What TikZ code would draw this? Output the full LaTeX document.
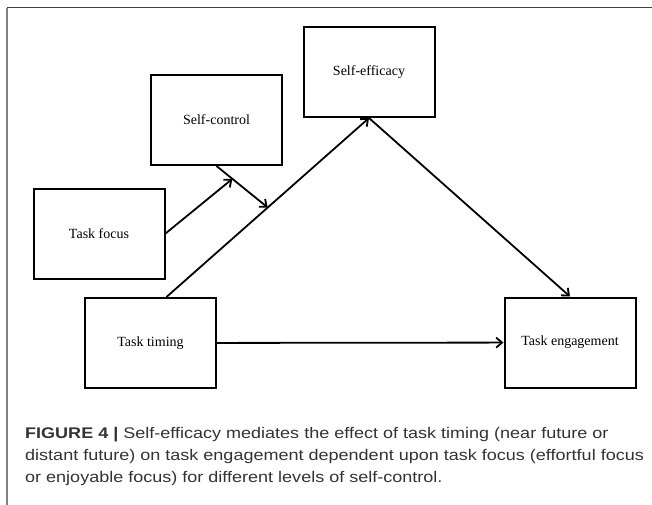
\documentclass[tikz,border=0pt]{standalone}
\usepackage{fontspec}
\setmainfont{Liberation Serif}
\newfontfamily\capfont[FakeStretch=1.17]{Liberation Sans}
\usetikzlibrary{calc,arrows.meta}
\tikzset{box/.style={draw,line width=2pt,minimum width=131pt,minimum height=90pt,inner sep=0pt,font=\fontsize{14}{16}\selectfont},
link/.style={line width=1.8pt,-{Straight Barb[length=6pt,width=10pt]}},
capline/.style={anchor=base west,inner sep=0pt,text=black!80,font=\capfont\fontsize{15.4}{18}\selectfont}}

\begin{document}
\begin{tikzpicture}[x=1pt,y=-1pt]
\useasboundingbox (0,0) rectangle (652,505);
% frame
\draw[black!50,line width=1.3pt] (7,505) -- (7,8);
\draw[black!75,line width=1pt] (7,8) -- (652,8);
% boxes
\node[box] (control) at (216.5,120) {Self-control};
\node[box] (efficacy) at (369,72) {Self-efficacy};
\node[box] (focus) at (99,233.5) {Task focus};
\node[box] (timing) at (150.5,343) {Task timing};
\node[box] (engagement) at (570,342.5) {Task engagement};
\coordinate (start) at ($(timing.north west)!0.62!(timing.north east)$);
\coordinate (mid) at ($(start)!0.5!(efficacy.south)$);
\coordinate (hit) at ($(control.south)!0.31!(mid)$);
% paths
\draw[link] (start) -- (efficacy.south);
\draw[link] (efficacy.south) -- (engagement.north);
\draw[link] (timing) -- (engagement);
\draw[link] (control.south) -- (mid);
\draw[link] (focus.east) -- (hit);
% caption
\node[capline] (cap1) at (25,438) {\textbf{FIGURE 4 |} Self-efficacy mediates the effect of task timing (near future or};
\node[capline] (cap2) at (25,460) {distant future) on task engagement dependent upon task focus (effortful focus};
\node[capline] (cap3) at (25,482) {or enjoyable focus) for different levels of self-control.};
\end{tikzpicture}
\end{document}
